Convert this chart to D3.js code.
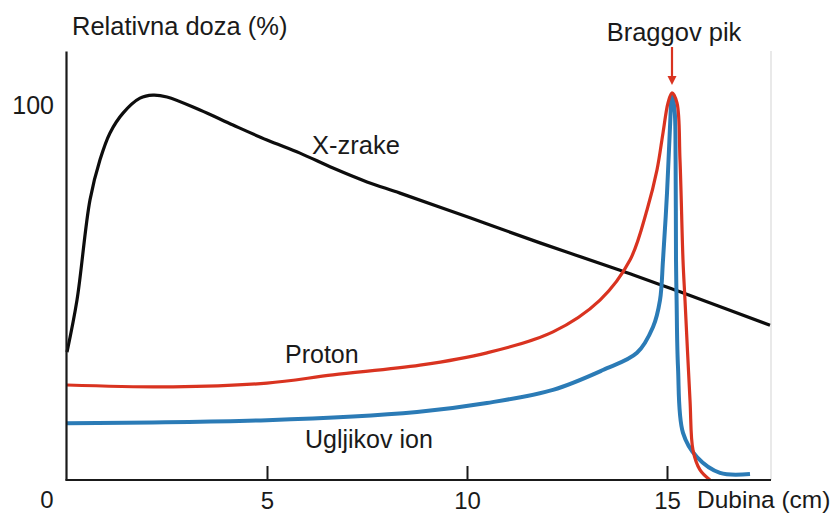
<!DOCTYPE html>
<html>
<head>
<meta charset="utf-8">
<script src="https://cdn.jsdelivr.net/npm/d3@7"></script>
<style>
  html, body { margin: 0; padding: 0; background: #fff; }
  svg { display: block; font-family: "Liberation Sans", Arial, sans-serif; }
</style>
</head>
<body>
<svg id="chart" width="833" height="515"></svg>
<script>
// ---- data (depth in cm, relative dose in %) ----
const xrayDepth = [0, 0.25, 0.575, 0.825, 1.075, 1.4, 1.825, 2.15, 2.5, 3.325, 4.15, 5.0, 5.825, 6.65, 7.5, 8.325, 10.075, 11.825, 13.825, 15.325, 17.575];
const xrayDose  = [34.2, 48.1, 74.9, 85.6, 92.8, 98.1, 102.1, 102.9, 102.4, 98.9, 94.9, 90.9, 87.4, 83.4, 79.7, 76.7, 70.1, 63.4, 56.1, 50.3, 41.4];

const protonDepth = [0, 2.65, 5.0, 6.65, 8.825, 10.5, 12.15, 13.325, 14.075, 14.5, 14.75, 14.9, 15.025, 15.125, 15.25, 15.325, 15.4, 15.45, 15.575, 15.65, 15.825, 16.075];
const protonDose  = [25.4, 24.9, 25.9, 28.1, 30.7, 34.0, 39.6, 48.1, 58.8, 72.2, 82.9, 92.8, 100.8, 103.5, 100.8, 85.6, 58.8, 48.1, 21.4, 8.0, 2.7, 0];

const carbonDepth = [0, 5.0, 8.75, 10.5, 12.15, 13.4, 14.25, 14.65, 14.825, 14.9, 15.0, 15.075, 15.125, 15.19, 15.215, 15.225, 15.24, 15.275, 15.4, 15.75, 16.325, 17.075];
const carbonDose  = [15.2, 16.0, 18.2, 20.6, 24.1, 29.4, 34.0, 40.9, 48.1, 58.8, 76.7, 94.4, 102.9, 98.9, 85.6, 58.8, 48.1, 30.2, 12.6, 6.1, 1.9, 1.6];

const xTicks = [5, 10, 15];
const yTicks = [100];

const svg = d3.select("#chart");

const x = d3.scaleLinear().domain([0, 17.6]).range([67, 771]);
const y = d3.scaleLinear().domain([0, 114.7]).range([480, 51]);

// faint right border
svg.append("line")
  .attr("x1", x(17.6)).attr("x2", x(17.6))
  .attr("y1", y(114.7)).attr("y2", y(0))
  .attr("stroke", "#e2e2e2").attr("stroke-width", 1.5);

// curves
const line = d3.line()
  .x(d => x(d[0])).y(d => y(d[1]))
  .curve(d3.curveCatmullRom.alpha(0.5));

function series(depth, dose) { return depth.map((d, i) => [d, dose[i]]); }

svg.append("path").datum(series(xrayDepth, xrayDose))
  .attr("d", line).attr("fill", "none")
  .attr("stroke", "#0d0d0d").attr("stroke-width", 3.2).attr("stroke-linejoin", "round");

svg.append("path").datum(series(carbonDepth, carbonDose))
  .attr("d", line).attr("fill", "none")
  .attr("stroke", "#2b7bb6").attr("stroke-width", 4).attr("stroke-linejoin", "round");

svg.append("path").datum(series(protonDepth, protonDose))
  .attr("d", line).attr("fill", "none")
  .attr("stroke", "#d93320").attr("stroke-width", 3.2).attr("stroke-linejoin", "round");

// axes
const xAxis = d3.axisBottom(x).tickValues(xTicks).tickSize(-14).tickPadding(12)
  .tickFormat(d3.format("d"));
const gx = svg.append("g").attr("transform", `translate(0,${y(0)})`).call(xAxis);
gx.select(".domain").attr("d", `M${x(0) - 1.5},0H${x(17.6)}`).attr("stroke", "#1a1a1a").attr("stroke-width", 2.2);
gx.selectAll(".tick line").attr("stroke", "#1a1a1a").attr("stroke-width", 2);
gx.selectAll(".tick text").attr("font-size", 24).attr("fill", "#1a1a1a")
  .attr("font-family", "Liberation Sans, Arial, sans-serif");

const yAxis = d3.axisLeft(y).tickValues(yTicks).tickSize(0).tickPadding(12)
  .tickFormat(d3.format("d"));
const gy = svg.append("g").attr("transform", `translate(${x(0) - 1},0)`).call(yAxis);
gy.select(".domain").attr("stroke", "#1a1a1a").attr("stroke-width", 2.2);
gy.selectAll(".tick text").attr("font-size", 25).attr("fill", "#1a1a1a")
  .attr("font-family", "Liberation Sans, Arial, sans-serif");

// zero label at the corner
svg.append("text").attr("x", x(0) - 20).attr("y", 508)
  .attr("text-anchor", "middle").attr("font-size", 24).attr("fill", "#1a1a1a").text("0");

// axis titles
svg.append("text").attr("x", 72).attr("y", 35).attr("font-size", 25.5).attr("fill", "#1a1a1a")
  .text("Relativna doza (%)");
svg.append("text").attr("x", 697).attr("y", 508).attr("font-size", 24.5).attr("fill", "#1a1a1a")
  .text("Dubina (cm)");

// series labels
svg.append("text").attr("x", 312).attr("y", 154).attr("font-size", 25.5).attr("fill", "#1a1a1a").text("X-zrake");
svg.append("text").attr("x", 285).attr("y", 363).attr("font-size", 25).attr("fill", "#1a1a1a").text("Proton");
svg.append("text").attr("x", 305).attr("y", 448).attr("font-size", 25).attr("fill", "#1a1a1a").text("Ugljikov ion");

// Bragg peak annotation
const peakX = x(15.125);
svg.append("text").attr("x", peakX + 2).attr("y", 41).attr("text-anchor", "middle")
  .attr("font-size", 25.5).attr("fill", "#1a1a1a").text("Braggov pik");
svg.append("line").attr("x1", peakX).attr("x2", peakX).attr("y1", 47).attr("y2", 78)
  .attr("stroke", "#d93320").attr("stroke-width", 2.2);
svg.append("path")
  .attr("d", `M${peakX - 4.5},76L${peakX + 4.5},76L${peakX},85Z`)
  .attr("fill", "#d93320");
</script>
</body>
</html>
